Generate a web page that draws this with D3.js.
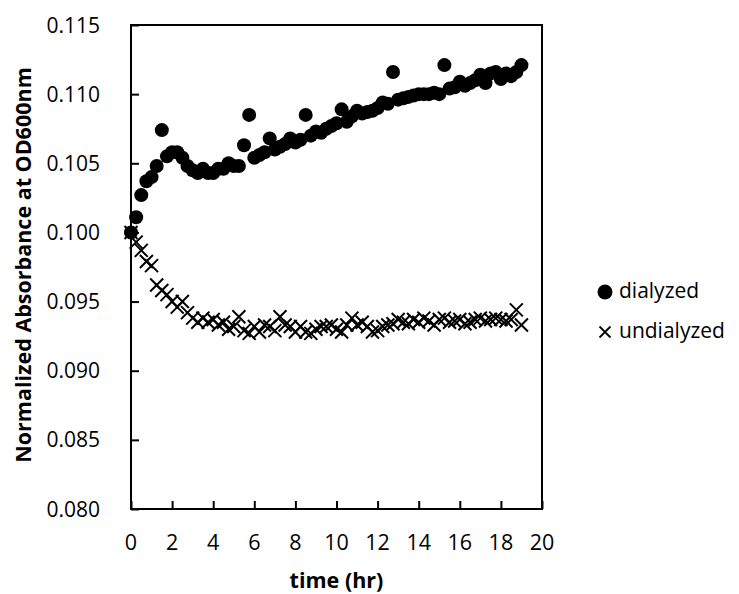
<!DOCTYPE html>
<html>
<head>
<meta charset="utf-8">
<script src="https://cdn.jsdelivr.net/npm/d3@7"></script>
<style>
  body { margin: 0; background: #fff; }
  svg { display: block; }
  text { font-family: "Open Sans", Lato, sans-serif; fill: #000; }
</style>
</head>
<body>
<svg id="chart" width="739" height="594"></svg>
<script>
const timeHr = [0,0.25,0.5,0.75,1,1.25,1.5,1.75,2,2.25,2.5,2.75,3,3.25,3.5,3.75,4,4.25,4.5,4.75,5,5.25,5.5,5.75,6,6.25,6.5,6.75,7,7.25,7.5,7.75,8,8.25,8.5,8.75,9,9.25,9.5,9.75,10,10.25,10.5,10.75,11,11.25,11.5,11.75,12,12.25,12.5,12.75,13,13.25,13.5,13.75,14,14.25,14.5,14.75,15,15.25,15.5,15.75,16,16.25,16.5,16.75,17,17.25,17.5,17.75,18,18.25,18.5,18.75,19];

const dialyzed = [0.1000,0.1011,0.1027,0.1037,0.1040,0.1048,0.1074,0.1055,0.1058,0.1058,0.1054,0.1048,0.1045,0.1043,0.1046,0.1043,0.1043,0.1046,0.1046,0.1050,0.1048,0.1048,0.1063,0.1085,0.1054,0.1056,0.1058,0.1068,0.1060,0.1062,0.1064,0.1068,0.1065,0.1067,0.1085,0.1070,0.1073,0.1072,0.1075,0.1077,0.1079,0.1089,0.1080,0.1084,0.1088,0.1086,0.1087,0.1088,0.1090,0.1094,0.1093,0.1116,0.1096,0.1097,0.1098,0.1099,0.1100,0.1100,0.1100,0.1101,0.1100,0.1121,0.1104,0.1105,0.1109,0.1106,0.1108,0.1110,0.1114,0.1108,0.1115,0.1116,0.1111,0.1115,0.1113,0.1116,0.1121];

const undialyzed = [0.1000,0.0993,0.0987,0.0979,0.0976,0.0962,0.0958,0.0955,0.0950,0.0946,0.0950,0.0942,0.0938,0.0935,0.0938,0.0935,0.0937,0.0933,0.0935,0.0930,0.0932,0.0939,0.0929,0.0927,0.0932,0.0928,0.0933,0.0932,0.0929,0.0939,0.0933,0.0932,0.0928,0.0932,0.0928,0.0927,0.0930,0.0932,0.0932,0.0933,0.0930,0.0928,0.0933,0.0938,0.0933,0.0935,0.0932,0.0928,0.0929,0.0932,0.0933,0.0934,0.0937,0.0935,0.0934,0.0937,0.0935,0.0938,0.0936,0.0933,0.0937,0.0938,0.0935,0.0936,0.0937,0.0934,0.0935,0.0937,0.0938,0.0936,0.0937,0.0938,0.0937,0.0936,0.0937,0.0944,0.0933];

const xTicks = [0,2,4,6,8,10,12,14,16,18,20];
const yTicks = [0.080,0.085,0.090,0.095,0.100,0.105,0.110,0.115];
const seriesNames = ["dialyzed","undialyzed"];

const svg = d3.select("#chart");
const L = 131, R = 542, T = 25, B = 509;

const x = d3.scaleLinear().domain([0,20]).range([L,R]);
const y = d3.scaleLinear().domain([0.080,0.115]).range([B,T]);

// plot frame
svg.append("rect").attr("x",L).attr("y",T).attr("width",R-L).attr("height",B-T)
  .attr("fill","none").attr("stroke","#000").attr("stroke-width",2);

// y axis (ticks inward)
const yAxis = d3.axisRight(y).tickValues(yTicks).tickSize(8).tickFormat("");
svg.append("g").attr("transform",`translate(${L},0)`).call(yAxis)
  .call(g => { g.select(".domain").remove(); g.selectAll("line").attr("stroke","#000").attr("stroke-width",2); });
svg.append("g").selectAll("text").data(yTicks).join("text")
  .attr("x",100).attr("y",d=>y(d)+2).attr("text-anchor","end").attr("dominant-baseline","middle")
  .attr("font-size",21).text(d3.format(".3f"));

// x axis (ticks inward)
const xAxis = d3.axisTop(x).tickValues(xTicks).tickSize(8).tickFormat("");
svg.append("g").attr("transform",`translate(0,${B})`).call(xAxis)
  .call(g => { g.select(".domain").remove(); g.selectAll("line").attr("stroke","#000").attr("stroke-width",2); });
svg.append("g").selectAll("text").data(xTicks).join("text")
  .attr("x",d=>x(d)).attr("y",544).attr("text-anchor","middle").attr("dominant-baseline","middle")
  .attr("font-size",21.5).text(d=>d);

// axis titles
svg.append("text").attr("x",(L+R)/2).attr("y",588).attr("text-anchor","middle")
  .attr("font-size",21.5).attr("font-weight","bold").text("time (hr)");
svg.append("text").attr("transform",`translate(25,${(T+B)/2 - 2}) rotate(-90)`)
  .attr("text-anchor","middle").attr("dominant-baseline","middle")
  .attr("font-size",21.5).attr("font-weight","bold").text("Normalized Absorbance at OD600nm");

// markers
const xPath = s => `M${-s},${-s}L${s},${s}M${-s},${s}L${s},${-s}`;

svg.append("g").selectAll("path").data(timeHr.map((t,i)=>[t,undialyzed[i]])).join("path")
  .attr("transform",d=>`translate(${x(d[0])},${y(d[1])})`)
  .attr("d",xPath(6.5)).attr("stroke","#000").attr("stroke-width",2).attr("fill","none");

svg.append("g").selectAll("circle").data(timeHr.map((t,i)=>[t,dialyzed[i]])).join("circle")
  .attr("cx",d=>x(d[0])).attr("cy",d=>y(d[1])).attr("r",7).attr("fill","#000");

// legend
const lg = svg.append("g");
lg.append("circle").attr("cx",605).attr("cy",292).attr("r",7.5).attr("fill","#000");
lg.append("text").attr("x",619).attr("y",292).attr("dominant-baseline","middle").attr("font-size",21).text(seriesNames[0]);
lg.append("path").attr("transform","translate(605,332)").attr("d",xPath(5.5))
  .attr("stroke","#000").attr("stroke-width",1.8).attr("fill","none");
lg.append("text").attr("x",619).attr("y",332).attr("dominant-baseline","middle").attr("font-size",21).text(seriesNames[1]);
</script>
</body>
</html>
